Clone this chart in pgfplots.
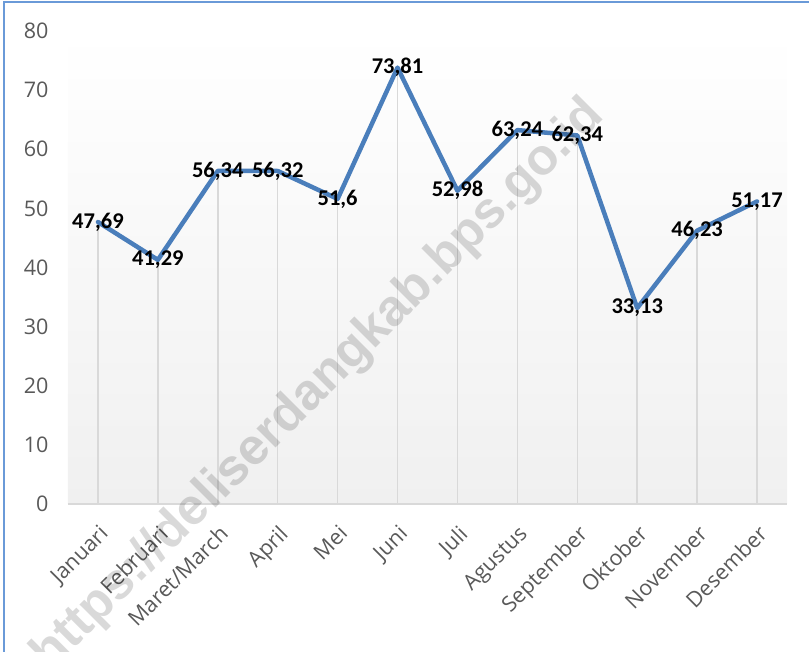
\documentclass[border=0pt]{standalone}
\usepackage{pgfplots}
\pgfplotsset{compat=1.18}
\usepackage{pgfplotstable}
\usepackage{fontspec}
\setmainfont{Open Sans}
\newfontfamily\carl{Carlito}
\newfontfamily\wmfont{Liberation Sans}
\definecolor{lineblue}{HTML}{4A7EBB}
\definecolor{dropgray}{HTML}{D9D9D9}
\definecolor{ticktext}{HTML}{595959}
\definecolor{frameblue}{HTML}{6A9AD8}
\definecolor{bgbottom}{HTML}{F0F0F0}
\pgfplotstableread{
x y label
0 47.69 47,69
1 41.29 41,29
2 56.34 56,34
3 56.32 56,32
4 51.6 51,6
5 73.81 73,81
6 52.98 52,98
7 63.24 63,24
8 62.34 62,34
9 33.13 33,13
10 46.23 46,23
11 51.17 51,17
}\datatable
\begin{document}
\begin{tikzpicture}[x=1pt,y=1pt]
\path[use as bounding box] (0,0) rectangle (809,652);
\begin{scope}
\clip (0,0) rectangle (809,652);
\begin{axis}[
  at={(68pt,148pt)}, anchor=south west,
  scale only axis, width=719pt, height=473pt,
  xmin=-0.5, xmax=11.5, ymin=0, ymax=80,
  ytick={0,10,...,80},
  xtick={0,...,11},
  xticklabels={Januari,Februari,Maret/March,April,Mei,Juni,Juli,Agustus,September,Oktober,November,Desember},
  axis x line=bottom, axis y line=left,
  x axis line style={-, draw=dropgray, line width=1.5pt},
  y axis line style={draw=none},
  major tick length=0pt,
  /pgf/number format/assume math mode=true,
  ticklabel style={font=\fontsize{21.5}{22}\selectfont, text=ticktext},
  yticklabel style={anchor=east, xshift=-16pt},
  xticklabel style={yshift=-15pt, rotate=45, anchor=north east},
  axis background/.style={shade, top color=white, bottom color=bgbottom},
  clip=false,
]
\addplot[ycomb, draw=dropgray, line width=1.5pt, no markers] table[x=x,y=y]{\datatable};
\addplot[lineblue, line width=4.5pt, line join=round, line cap=round, no markers,
  nodes near coords, point meta=explicit symbolic,
  nodes near coords style={font=\carl\bfseries\fontsize{22.5}{23}\selectfont, anchor=center, text=black, inner sep=0pt}]
  table[x=x,y=y,meta=label]{\datatable};
\end{axis}
\node[rotate=45, opacity=0.15, font=\wmfont\bfseries\fontsize{51}{51}\selectfont] at (319,266) {https://deliserdangkab.bps.go.id};
\end{scope}
\draw[frameblue, line width=2pt] (4,0) -- (4,650) -- (809,650);
\end{tikzpicture}
\end{document}
